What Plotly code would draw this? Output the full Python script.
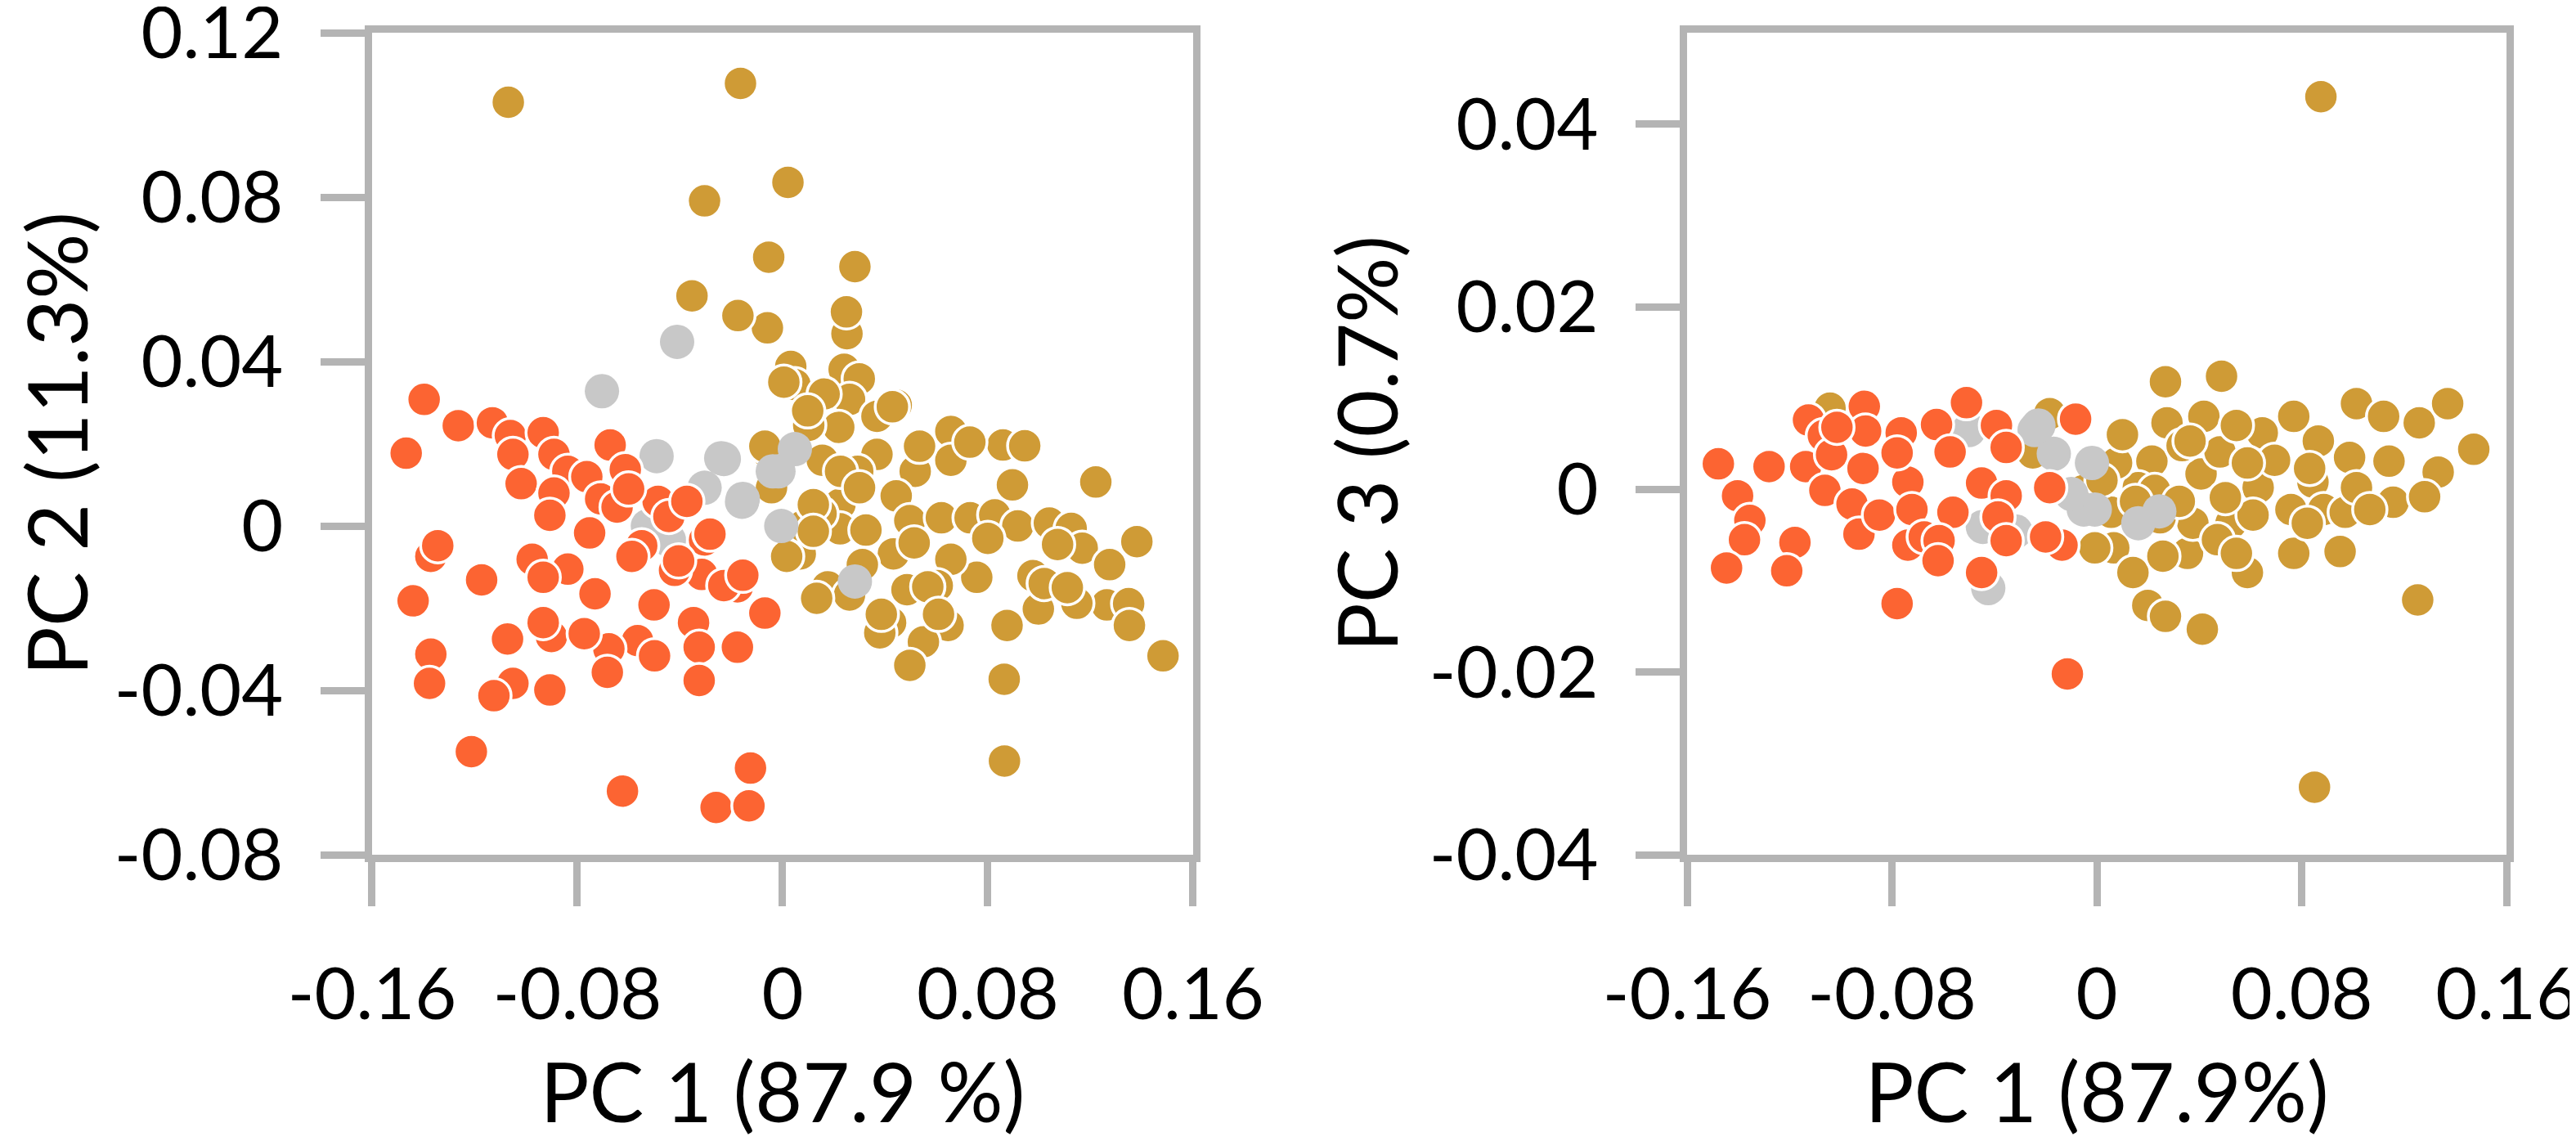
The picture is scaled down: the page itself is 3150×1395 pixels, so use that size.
import plotly.graph_objects as go

# ---- PC1 vs PC2 (left panel) ----
pc1_orange_a = [-0.1397, -0.1467, -0.1264, -0.1131, -0.1061, -0.0933, -0.1051, -0.0891, -0.1019, -0.0672,
                -0.0613, -0.0837, -0.0763, -0.0891, -0.0709, -0.0645, -0.0907, -0.0752, -0.0485, -0.0443,
                -0.0373, -0.0549, -0.0587, -0.0304, -0.0283, -0.0315, -0.0421, -0.0176, -0.0229, -0.0069,
                -0.0501, -0.0347, -0.0176, -0.0325, -0.0325, -0.0565, -0.0677, -0.0683, -0.0499, -0.0731,
                -0.0837, -0.0976, -0.0933, -0.0901, -0.0933, -0.1072, -0.0773, -0.1051, -0.1125, -0.0907,
                -0.1371, -0.1376, -0.1371, -0.1344, -0.1440, -0.1173, -0.1213, -0.0624, -0.0259, -0.0131,
                -0.0125, -0.0405, -0.0155, -0.0600]
pc2_orange = [0.0308, 0.0177, 0.0244, 0.0251, 0.0220, 0.0227, 0.0174, 0.0174, 0.0103, 0.0197,
              0.0137, 0.0133, 0.0120, 0.0080, 0.0066, 0.0046, 0.0026, -0.0017, 0.0060, 0.0023,
              0.0060, -0.0048, -0.0074, -0.0034, -0.0020, -0.0118, -0.0108, -0.0148, -0.0145, -0.0212,
              -0.0192, -0.0235, -0.0295, -0.0295, -0.0376, -0.0279, -0.0299, -0.0356, -0.0316, -0.0165,
              -0.0105, -0.0081, -0.0125, -0.0269, -0.0235, -0.0275, -0.0262, -0.0383, -0.0413, -0.0399,
              -0.0312, -0.0383, -0.0074, -0.0048, -0.0182, -0.0131, -0.0549, -0.0645, -0.0685, -0.0681,
              -0.0589, -0.0085, -0.0120, 0.0090]

pc1_gray_a = [-0.0411, -0.0704, -0.0491, -0.0304, -0.0229, -0.0155, -0.0005, -0.0016, -0.0443, -0.0525,
              0.0048, -0.0038, 0.0282, -0.0239, -0.0158]
pc2_gray = [0.0448, 0.0328, 0.0170, 0.0093, 0.0163, 0.0066, 0.0000, 0.0133, -0.0034, 0.0000,
            0.0187, 0.0133, -0.0135, 0.0165, 0.0059]

pc1_gold_a = [0.0251, 0.0240, 0.0299, 0.0032, 0.0048, 0.0261, 0.0443, 0.0107, 0.0368, 0.0368,
              0.0219, 0.0656, 0.0859, 0.0944, 0.0656, 0.0517, 0.0896, 0.1221, 0.0155, 0.0293,
              0.0443, 0.0224, 0.0496, 0.0619, 0.0731, 0.0827, 0.0917, 0.1040, 0.1125, 0.1168,
              0.1381, 0.1275, 0.0976, 0.1072, 0.1264, 0.1349, 0.1352, 0.1483, 0.1147, 0.0997,
              0.0875, 0.0864, 0.0757, 0.0656, 0.0603, 0.0432, 0.0485, 0.0645, 0.0549, 0.0496,
              0.0421, 0.0379, 0.0176, 0.0261, 0.0069, 0.0224, 0.0325, 0.0133, -0.0059, -0.0059,
              -0.1069, -0.0164, 0.0021, -0.0304, -0.0054, 0.0282, -0.0353, -0.0174, 0.0249, 0.0428,
              0.0865, 0.0005, 0.0016, -0.0069, -0.0043, 0.0102, 0.0080, 0.0150,
              0.0162, 0.0226, 0.0120, 0.0120, 0.0311, 0.0513, 0.0566, 0.0385, 0.0608, 0.0098,
              0.0300, 0.0534, 0.0730, 0.1020, 0.1110, 0.0800]
pc2_gold = [0.0468, 0.0381, 0.0358, 0.0388, 0.0344, 0.0308, 0.0294, 0.0251, 0.0267, 0.0174,
            0.0240, 0.0230, 0.0197, 0.0195, 0.0160, 0.0133, 0.0100, 0.0107, 0.0160, 0.0133,
            0.0073, 0.0053, 0.0013, 0.0020, 0.0020, 0.0027, 0.0000, 0.0007, -0.0006, -0.0054,
            -0.0038, -0.0094, -0.0121, -0.0045, -0.0192, -0.0189, -0.0242, -0.0316, -0.0188, -0.0202,
            -0.0242, -0.0373, -0.0125, -0.0081, -0.0145, -0.0068, -0.0155, -0.0242, -0.0282, -0.0339,
            -0.0235, -0.0260, -0.0148, -0.0168, -0.0068, -0.0007, -0.0010, -0.0176, 0.0482, 0.0180,
            0.1031, 0.1077, 0.0836, 0.0791, 0.0654, 0.0631, 0.0560, 0.0512, 0.0521, 0.0290,
            -0.0572, 0.0350, -0.0074, 0.0194, 0.0093, 0.0245, 0.0000, 0.0030,
            0.0321, 0.0133, 0.0052, -0.0013, -0.0094, -0.0041, -0.0148, -0.0215, -0.0215, 0.0280,
            0.0093, 0.0194, 0.0204, -0.0140, -0.0150, -0.0030]

# ---- PC1 vs PC3 (right panel) ----
pc1_orange_b = [-0.1478, -0.1403, -0.1355, -0.1376, -0.1446, -0.1280, -0.1179, -0.1211, -0.1137, -0.1126,
                -0.1068, -0.1036, -0.1062, -0.0908, -0.0903, -0.0913, -0.0956, -0.0929, -0.0849, -0.0764,
                -0.0738, -0.0722, -0.0738, -0.0674, -0.0626, -0.0573, -0.0509, -0.0562, -0.0616, -0.0450,
                -0.0392, -0.0354, -0.0354, -0.0386, -0.0354, -0.0450, -0.0184, -0.0083, -0.0136, -0.0200,
                -0.0780, -0.0115, -0.0620, -0.1015, -0.0780]
pc3_orange = [0.0028, -0.0007, -0.0034, -0.0055, -0.0086, 0.0025, -0.0058, -0.0089, 0.0025, 0.0076,
              0.0059, 0.0038, -0.0001, 0.0091, 0.0064, 0.0023, -0.0016, -0.0049, -0.0028, 0.0062,
              0.0008, -0.0022, -0.0061, -0.0052, 0.0071, 0.0041, 0.0095, -0.0025, -0.0056, 0.0007,
              0.0070, 0.0046, -0.0007, -0.0030, -0.0056, -0.0091, 0.0002, 0.0077, -0.0061, -0.0052,
              -0.0125, -0.0202, -0.0078, 0.0068, 0.0040]

pc1_gray_b = [-0.0424, -0.0317, -0.0243, -0.0168, -0.0019, -0.0051, -0.0445, -0.0500, -0.0008, 0.0244,
              0.0162, -0.0100, -0.0228]
pc3_gray = [-0.0108, -0.0046, 0.0065, 0.0039, 0.0029, -0.0022, -0.0041, 0.0065, -0.0022, -0.0024,
            -0.0037, -0.0005, 0.0070]

pc1_gold_b = [0.0268, 0.0487, 0.0274, 0.0418, 0.0215, 0.0162, 0.0077, 0.0066, 0.0141, 0.0199,
              0.0268, 0.0412, 0.0354, 0.0258, 0.0375, 0.0407, 0.0481, 0.0524, 0.0588, 0.0630,
              0.0646, 0.0610, 0.0758, 0.0769, 0.0769, 0.0694, 0.0865, 0.0844, 0.0886, 0.0950,
              0.0987, 0.1014, 0.0970, 0.1120, 0.1141, 0.1157, 0.1259, 0.1370, 0.1472, 0.1333,
              0.1280, 0.1253, 0.1014, 0.1066, 0.0545, 0.0333, 0.0502, 0.0471, 0.0822, 0.0056,
              0.0875, 0.0850, -0.1042, -0.0184, -0.0008, -0.0050, 0.0100, -0.0250, 0.0020,
              0.0588, 0.0226, 0.0151, 0.0247, 0.0545, 0.0322, 0.0831, 0.0364]
pc3_gold = [0.0118, 0.0124, 0.0073, 0.0080, 0.0031, 0.0002, 0.0029, -0.0064, -0.0091, -0.0127,
            -0.0139, -0.0153, -0.0070, -0.0073, -0.0037, 0.0017, 0.0041, -0.0037, -0.0091, 0.0002,
            0.0062, -0.0028, -0.0022, -0.0070, 0.0080, 0.0032, 0.0053, 0.0008, -0.0022, -0.0068,
            0.0035, 0.0094, -0.0025, 0.0080, 0.0031, -0.0014, 0.0073, 0.0094, 0.0044, 0.0019,
            -0.0008, -0.0121, 0.0002, -0.0022, 0.0070, 0.0048, -0.0009, -0.0055, -0.0037, -0.0025,
            0.0430, -0.0326, 0.0089, 0.0083, -0.0064, -0.0001, 0.0060, 0.0040, 0.0010,
            0.0029, -0.0001, -0.0013, -0.0031, -0.0070, -0.0013, 0.0023, 0.0053]

x_ticks = [-0.16, -0.08, 0, 0.08, 0.16]
x_ticktext = ["-0.16", "-0.08", "0", "0.08", "0.16"]
y2_ticks = [-0.08, -0.04, 0, 0.04, 0.08, 0.12]
y2_ticktext = ["-0.08", "-0.04", "0", "0.04", "0.08", "0.12"]
y3_ticks = [-0.04, -0.02, 0, 0.02, 0.04]
y3_ticktext = ["-0.04", "-0.02", "0", "0.02", "0.04"]

ORANGE = "#FC6432"
GOLD = "#CF9B36"
GRAY = "#C8C8C8"
AXIS = "#B4B4B4"
FONT = "Lato"

fig = go.Figure()


def add_points(x, y, color, xa, ya, outline=True):
    fig.add_trace(go.Scatter(
        x=x, y=y, mode="markers", xaxis=xa, yaxis=ya, showlegend=False,
        marker=dict(size=42, color=color,
                    line=dict(color="white", width=3.5 if outline else 0))))


add_points(pc1_gold_a, pc2_gold, GOLD, "x", "y")
add_points(pc1_gray_a, pc2_gray, GRAY, "x", "y", outline=False)
add_points(pc1_orange_a, pc2_orange, ORANGE, "x", "y")

add_points(pc1_gold_b, pc3_gold, GOLD, "x2", "y2")
add_points(pc1_gray_b, pc3_gray, GRAY, "x2", "y2", outline=False)
add_points(pc1_orange_b, pc3_orange, ORANGE, "x2", "y2")

tickfont = dict(family=FONT, size=88, color="black")
titlefont = dict(family=FONT, size=100, color="black")
common = dict(showgrid=False, zeroline=False, showline=True, mirror=True,
              linecolor=AXIS, linewidth=9, ticks="outside", ticklen=54,
              tickwidth=9, tickcolor=AXIS, automargin=False,
              ticklabeloverflow="allow", tickfont=tickfont)

fig.update_layout(
    width=3150, height=1395,
    margin=dict(l=0, r=0, t=0, b=0),
    paper_bgcolor="white", plot_bgcolor="white",
    xaxis=dict(domain=[0.1419, 0.4606], range=[-0.16, 0.16], anchor="y",
               tickvals=x_ticks, ticktext=x_ticktext, ticklabelstandoff=32,
               title=dict(text="PC 1 (87.9 %)", font=titlefont, standoff=42), **common),
    yaxis=dict(domain=[0.2566, 0.977], range=[-0.08, 0.12], anchor="x",
               tickvals=y2_ticks, ticktext=y2_ticktext, ticklabelstandoff=28,
               title=dict(text="PC 2 (11.3%)", font=titlefont, standoff=8), **common),
    xaxis2=dict(domain=[0.6524, 0.9705], range=[-0.16, 0.16], anchor="y2",
                tickvals=x_ticks, ticktext=x_ticktext, ticklabelstandoff=32,
                title=dict(text="PC 1 (87.9%)", font=titlefont, standoff=42), **common),
    yaxis2=dict(domain=[0.2566, 0.977], range=[-0.04, 0.05], anchor="x2",
                tickvals=y3_ticks, ticktext=y3_ticktext, ticklabelstandoff=28,
                title=dict(text="PC 3 (0.7%)", font=titlefont, standoff=8), **common),
)

fig.write_html("out.html")
